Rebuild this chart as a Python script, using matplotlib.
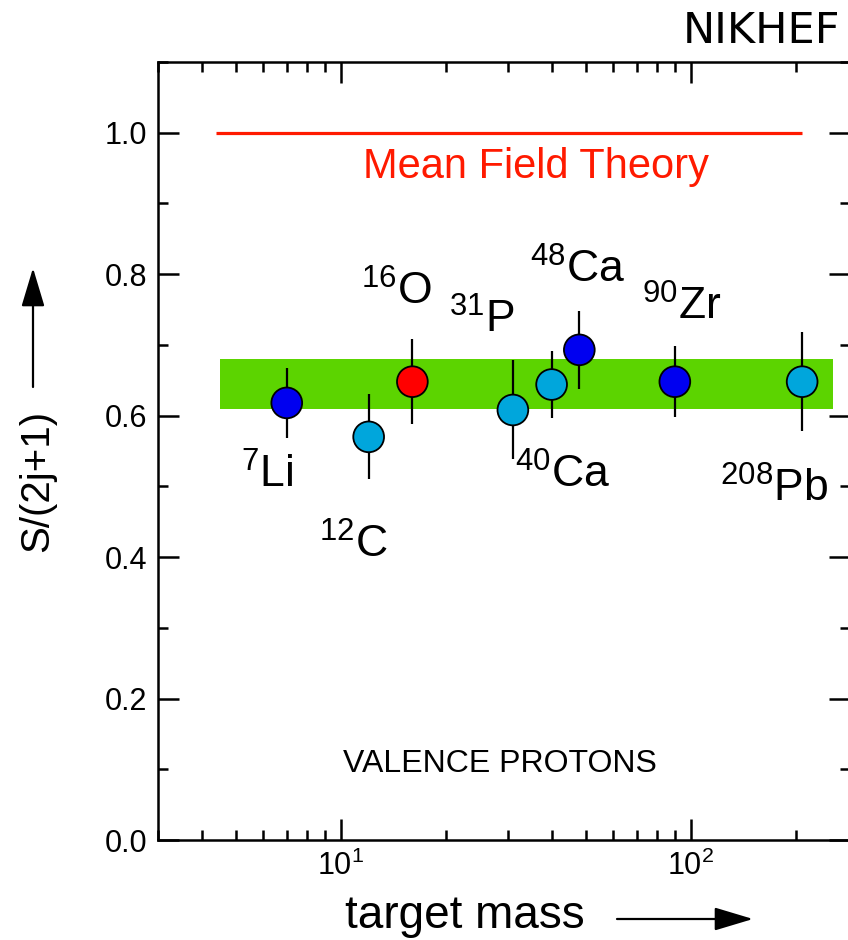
import numpy as np
import matplotlib
matplotlib.use('Agg')
from matplotlib import pyplot as plt
from matplotlib.ticker import MultipleLocator, FormatStrFormatter, LogLocator, NullFormatter

plt.rcParams['font.family'] = ['Liberation Sans', 'DejaVu Sans']
plt.rcParams['mathtext.fontset'] = 'custom'
plt.rcParams['mathtext.rm'] = 'Liberation Sans'
plt.rcParams['mathtext.default'] = 'regular'

# measured points
nuclei = ['7Li', '12C', '16O', '31P', '40Ca', '48Ca', '90Zr', '208Pb']
mass = [7, 12, 16, 31, 40, 48, 90, 208]
value = [0.618, 0.570, 0.648, 0.608, 0.644, 0.693, 0.648, 0.648]
err = [0.05, 0.06, 0.06, 0.07, 0.048, 0.055, 0.05, 0.07]
colors = ['#0000f0', '#00a6dc', '#ff0000', '#00a6dc', '#00a6dc', '#0000f0', '#0000f0', '#00a6dc']

# isotope labels: superscript, symbol, x, y of baseline
lab_sup = ['7', '12', '16', '31', '40', '48', '90', '208']
lab_sym = ['Li', 'C', 'O', 'P', 'Ca', 'Ca', 'Zr', 'Pb']
lab_x = [5.17, 8.65, 11.4, 20.4, 31.5, 34.6, 72.4, 121]
lab_y = [0.498, 0.399, 0.757, 0.717, 0.498, 0.788, 0.735, 0.478]

# mean field line and green band
mf_x = [4.4, 208]
mf_y = [1.0, 1.0]
band_x = [4.5, 255]
band_lo = 0.61
band_hi = 0.68

W, H = 848, 940
fig = plt.figure(figsize=(W / 100, H / 100), dpi=100)
ax = fig.add_axes([158 / W, 100 / H, 692 / W, 778 / H])
ax.set_xscale('log')
ax.set_xlim(3, 285)
ax.set_ylim(0, 1.1)

ax.fill_between(band_x, band_lo, band_hi, color='#5cd400', lw=0, zorder=1)
ax.plot(mf_x, mf_y, color='#ff1a00', lw=2.3, solid_capstyle='butt', zorder=2)
ax.errorbar(mass, value, yerr=err, fmt='none', ecolor='black', elinewidth=1.6, capsize=0, zorder=3)
ax.scatter(mass, value, s=490, c=colors, edgecolors='black', linewidths=1.3, zorder=4)

for sup, sym, x, y in zip(lab_sup, lab_sym, lab_x, lab_y):
    ax.text(x, y, '$^{' + sup + '}$' + sym, fontsize=32, ha='left', va='baseline')

ax.text(36, 0.936, 'Mean Field Theory', color='#ff1a00', fontsize=30, ha='center', va='baseline')
ax.text(28.4, 0.096, 'VALENCE PROTONS', fontsize=23, ha='center', va='baseline')

ax.yaxis.set_major_locator(MultipleLocator(0.2))
ax.yaxis.set_minor_locator(MultipleLocator(0.1))
ax.yaxis.set_major_formatter(FormatStrFormatter('%.1f'))
ax.xaxis.set_major_locator(LogLocator(base=10))
ax.xaxis.set_minor_locator(LogLocator(base=10, subs=np.arange(2, 10)))
ax.xaxis.set_minor_formatter(NullFormatter())
ax.tick_params(which='both', direction='in', top=True, right=True, width=1.8)
ax.tick_params(which='major', length=15, labelsize=22, pad=8)
ax.tick_params(which='minor', length=7.5)
for s in ax.spines.values():
    s.set_linewidth(1.8)

# axis titles with arrows
fig.text(345 / W, 1 - 928 / H, 'target mass', fontsize=33, ha='left', va='baseline')
ax.annotate('', xy=(753, H - 919), xytext=(617, H - 919), xycoords='figure pixels',
            textcoords='figure pixels',
            arrowprops=dict(arrowstyle='-|>,head_length=1.2,head_width=0.36', mutation_scale=20,
                            lw=1.6, color='black', shrinkA=0, shrinkB=0))
fig.text(37 / W, 1 - 481 / H, 'S/(2j+1)', fontsize=29, rotation=90, ha='center', va='center')
ax.annotate('', xy=(33, H - 268), xytext=(33, H - 387), xycoords='figure pixels',
            textcoords='figure pixels',
            arrowprops=dict(arrowstyle='-|>,head_length=1.2,head_width=0.36', mutation_scale=20,
                            lw=1.6, color='black', shrinkA=0, shrinkB=0))

fig.text(840 / W, 1 - 43 / H, 'NIKHEF', fontsize=31, family='DejaVu Sans', ha='right', va='baseline')

fig.savefig('out.png', dpi=100)
